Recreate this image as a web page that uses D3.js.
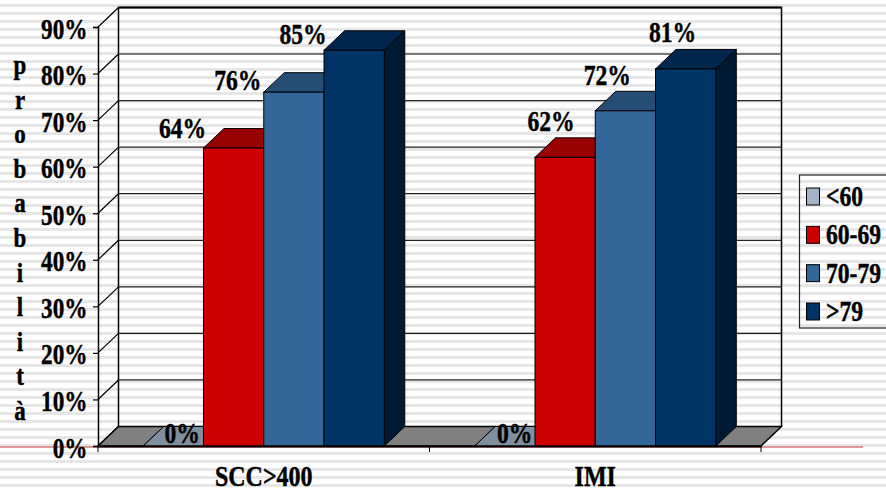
<!DOCTYPE html>
<html>
<head>
<meta charset="utf-8">
<script src="https://cdn.jsdelivr.net/npm/d3@7"></script>
<style>
  body { margin: 0; background: #fff; }
  svg { display: block; }
  text { font-family: "Liberation Serif", serif; font-weight: bold; fill: #000; stroke: #000; stroke-width: 0.45px; }
</style>
</head>
<body>
<svg id="chart" width="886" height="492"></svg>
<script>
const categories = ["SCC>400", "IMI"];
const seriesNames = ["<60", "60-69", "70-79", ">79"];
const seriesValues = [
    [0, 64, 76, 85],
    [0, 62, 72, 81]
];
const yTicks = [0, 10, 20, 30, 40, 50, 60, 70, 80, 90];
const yTitle = ["p", "r", "o", "b", "a", "b", "i", "l", "i", "t", "à"];

const frontColors = ["#7f8fa0", "#cc0000", "#336699", "#003366"];
const topColors = ["#6f7d8c", "#990000", "#264d73", "#00264d"];
const sideColors = ["#5f6b78", "#800000", "#1f4060", "#001a33"];
const legendColors = ["#a3b2c4", "#cc0000", "#336699", "#003366"];

// hand placed value labels: [dx from bar left, dy from bar top]
const labelNudge = [
    [[39, -3], [-21, -10], [-26, -2], [-21, -6]],
    [[40, -3], [16, -26], [12, -26], [17, -27]]
];

const svg = d3.select("#chart");

// striped slide background
const defs = svg.append("defs");
const stripe = defs.append("pattern")
    .attr("id", "stripes")
    .attr("patternUnits", "userSpaceOnUse")
    .attr("width", 8).attr("height", 8)
    .attr("y", 3);
stripe.append("rect").attr("width", 8).attr("height", 8).attr("fill", "#fff");
stripe.append("rect").attr("width", 8).attr("y", 1).attr("height", 3).attr("fill", "#e6e6e6");
svg.append("rect").attr("width", 886).attr("height", 492).attr("fill", "url(#stripes)");

const plotLeft = 98, plotRight = 761, base = 446, plotTop = 27;
const dx = 20.5, dy = -19.5;

const x0 = d3.scaleBand().domain(categories).range([plotLeft, plotRight]);
const x1 = d3.scaleBand().domain(seriesNames).range([0, x0.bandwidth()])
    .paddingInner(0).paddingOuter(0.75).align(0.5);
const y = d3.scaleLinear().domain([0, 90]).range([base, plotTop]);

// back wall
svg.append("path")
    .attr("d", `M${plotLeft + dx},${base + dy}V${plotTop + dy}H${plotRight + dx}V${base + dy}`)
    .attr("fill", "none").attr("stroke", "#000").attr("stroke-width", 1.5);
svg.append("line")
    .attr("x1", plotLeft + dx).attr("x2", plotRight + dx)
    .attr("y1", plotTop + dy).attr("y2", plotTop + dy)
    .attr("stroke", "#000").attr("stroke-width", 2);

// gridlines on back and side walls
const grid = svg.append("g");
yTicks.filter(d => d > 0 && d < 90).forEach(d => {
    grid.append("line")
        .attr("x1", plotLeft + dx).attr("x2", plotRight + dx)
        .attr("y1", y(d) + dy).attr("y2", y(d) + dy)
        .attr("stroke", d === 80 ? "#555" : "#222").attr("stroke-width", d === 80 ? 1.6 : 1.2);
});
yTicks.forEach(d => {
    grid.append("line")
        .attr("x1", plotLeft).attr("x2", plotLeft + dx)
        .attr("y1", y(d)).attr("y2", y(d) + dy)
        .attr("stroke", "#000").attr("stroke-width", 1.2);
});

// floor
svg.append("path")
    .attr("d", `M${plotLeft},${base}L${plotLeft + dx},${base + dy}H${plotRight + dx}L${plotRight},${base}Z`)
    .attr("fill", "#808080").attr("stroke", "#000").attr("stroke-width", 1.5);

// thin red rule of the slide
svg.append("line")
    .attr("x1", 0).attr("x2", 863)
    .attr("y1", base + 1).attr("y2", base + 1)
    .attr("stroke", "#c8383c").attr("stroke-width", 1);

// bars, back to front within each cluster
const clusters = svg.selectAll("g.cluster")
    .data(categories)
    .join("g")
    .attr("class", "cluster")
    .attr("transform", d => `translate(${x0(d)},0)`);

const bars = clusters.selectAll("g.bar")
    .data((d, i) => seriesValues[i].map((v, j) => ({ v: v, s: seriesNames[j], j: j, c: i })))
    .join("g")
    .attr("class", "bar");

const w = x1.bandwidth();

bars.append("path") // side
    .attr("d", d => `M${x1(d.s) + w},${base}l${dx},${dy}V${y(d.v) + dy}l${-dx},${-dy}Z`)
    .attr("fill", d => sideColors[d.j])
    .attr("stroke", "#000").attr("stroke-width", 1);
bars.append("path") // top
    .attr("d", d => `M${x1(d.s)},${y(d.v)}l${dx},${dy}h${w}l${-dx},${-dy}Z`)
    .attr("fill", d => topColors[d.j])
    .attr("stroke", "#000").attr("stroke-width", 1);
bars.append("rect") // front
    .attr("x", d => x1(d.s))
    .attr("y", d => y(d.v))
    .attr("width", w)
    .attr("height", d => base - y(d.v))
    .attr("fill", d => frontColors[d.j])
    .attr("stroke", "#000").attr("stroke-width", 1);

// the <60 bars have no height, their floor patch shows the series colour
bars.filter(d => d.v === 0).append("path")
    .attr("d", d => `M${x1(d.s)},${base}l${dx},${dy}h${w}l${-dx},${-dy}Z`)
    .attr("fill", d => frontColors[d.j])
    .attr("stroke", "#000").attr("stroke-width", 1);

// value labels, condensed Times look
const condensed = (sel, x, yy, size, anchor) => sel
    .attr("text-anchor", anchor)
    .attr("font-size", size)
    .attr("transform", `translate(${x},${yy}) scale(0.8,1)`);

bars.each(function (d) {
    const n = labelNudge[d.c][d.j];
    const t = d3.select(this).append("text").text(d.v + "%");
    condensed(t, x1(d.s) + n[0], y(d.v) + n[1], 29.5, "middle");
});

// axes
const yAxis = svg.append("g")
    .attr("transform", `translate(${plotLeft},0)`)
    .call(d3.axisLeft(y).tickValues(yTicks).tickSize(5).tickFormat(d => d + "%"));
yAxis.select(".domain").attr("stroke", "#000").attr("stroke-width", 1.5);
yAxis.selectAll(".tick line").attr("stroke", "#000").attr("stroke-width", 1.2);
yAxis.selectAll(".tick text").each(function () {
    d3.select(this).attr("x", null).attr("dy", null);
    condensed(d3.select(this), -10.5, 11, 29, "end");
});

const xAxis = svg.append("g")
    .attr("transform", `translate(0,${base})`)
    .call(d3.axisBottom(x0).tickSize(0).tickFormat(d => d));
xAxis.select(".domain").attr("stroke", "#000").attr("stroke-width", 2);
xAxis.selectAll(".tick text").each(function () {
    d3.select(this).attr("y", null).attr("dy", null);
    condensed(d3.select(this), 0, 39.5, 30, "middle");
});
[plotLeft, x0("IMI"), plotRight].forEach(px => {
    xAxis.append("line")
        .attr("x1", px).attr("x2", px).attr("y1", 0).attr("y2", 6)
        .attr("stroke", "#000").attr("stroke-width", 1);
});

// vertical axis title, one letter per line
const titleY = d3.scalePoint().domain(d3.range(yTitle.length)).range([74, 420]);
svg.append("g").selectAll("text")
    .data(yTitle)
    .join("text")
    .text(d => d)
    .attr("font-size", 27)
    .attr("text-anchor", "middle")
    .attr("transform", (d, i) => `translate(20,${titleY(i)}) scale(0.85,1)`);

// legend
const legend = svg.append("g");
legend.append("rect")
    .attr("x", 799.5).attr("y", 175)
    .attr("width", 100).attr("height", 153)
    .attr("fill", "url(#stripes)")
    .attr("stroke", "#222").attr("stroke-width", 1.2);
const legendY = d3.scalePoint().domain(seriesNames).range([196.5, 311.5]);
const items = legend.selectAll("g.item").data(seriesNames).join("g").attr("class", "item");
items.append("rect")
    .attr("x", 806.5).attr("y", d => legendY(d) - 8.5)
    .attr("width", 13).attr("height", 17)
    .attr("fill", (d, i) => legendColors[i])
    .attr("stroke", "#000").attr("stroke-width", 1);
items.each(function (d) {
    condensed(d3.select(this).append("text").text(d), 826, legendY(d) + 9.5, 29.5, "start");
});
</script>
</body>
</html>
